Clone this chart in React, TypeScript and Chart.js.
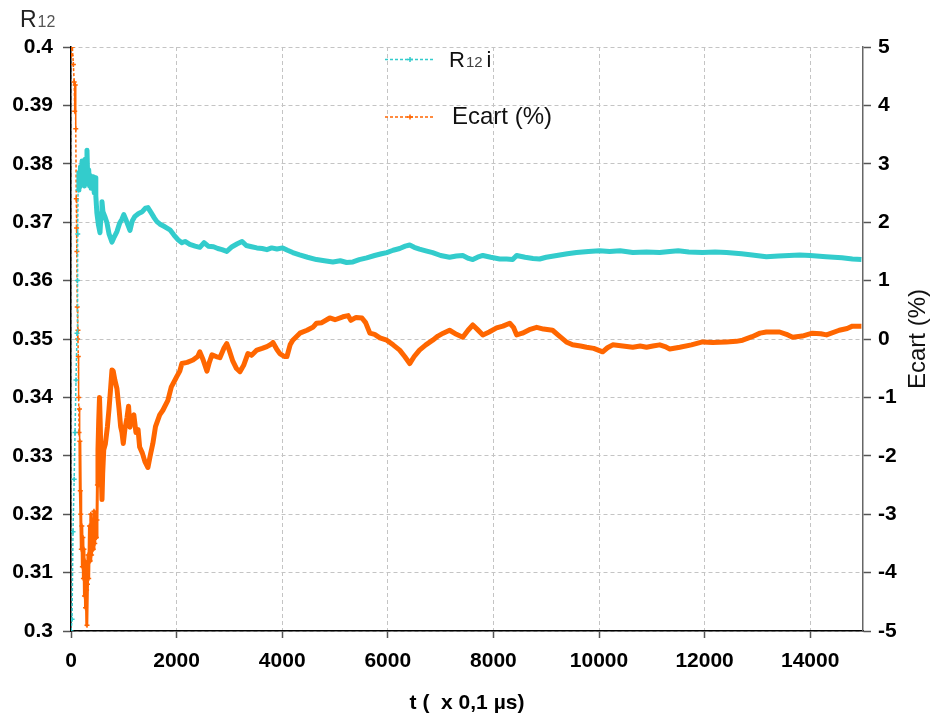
import React, { useEffect, useRef } from "react";
import { Chart, registerables } from "chart.js";

Chart.register(...registerables);

// ---- DATA ----
const tR12: number[] = [0, 20, 38, 60, 76, 95, 114, 122, 128, 134, 150, 165, 180, 195, 210, 225, 240, 255, 270, 285, 303, 318, 335, 350, 365, 380, 395, 410, 425, 440, 455, 470, 490, 520, 549, 570, 587, 605, 640, 681, 720, 776, 820, 870, 920, 965, 1000, 1050, 1117, 1160, 1211, 1280, 1350, 1410, 1457, 1520, 1580, 1627, 1680, 1760, 1874, 1950, 2025, 2100, 2160, 2250, 2350, 2440, 2520, 2600, 2700, 2780, 2860, 2950, 3050, 3150, 3240, 3320, 3420, 3520, 3620, 3710, 3800, 3900, 4010, 4100, 4200, 4330, 4480, 4650, 4800, 4960, 5100, 5220, 5340, 5460, 5600, 5750, 5880, 5980, 6100, 6225, 6330, 6415, 6500, 6600, 6720, 6850, 7000, 7170, 7300, 7420, 7530, 7610, 7700, 7800, 7950, 8120, 8250, 8365, 8440, 8600, 8750, 8875, 9000, 9200, 9400, 9575, 9800, 10010, 10200, 10400, 10640, 10900, 11150, 11340, 11500, 11700, 11960, 12200, 12415, 12700, 12900, 13170, 13400, 13600, 13800, 14000, 14300, 14600, 14800, 14970];
const r12: number[] = [0.300, 0.302, 0.317, 0.326, 0.334, 0.343, 0.351, 0.360, 0.368, 0.3755, 0.3785, 0.376, 0.3795, 0.3765, 0.3805, 0.377, 0.3785, 0.3762, 0.3808, 0.3775, 0.3823, 0.3768, 0.379, 0.3762, 0.378, 0.3758, 0.3775, 0.376, 0.3778, 0.375, 0.3776, 0.3745, 0.3716, 0.3695, 0.3682, 0.3715, 0.3735, 0.3718, 0.371, 0.3699, 0.368, 0.3666, 0.3675, 0.3684, 0.3698, 0.3705, 0.3713, 0.3702, 0.3686, 0.3702, 0.371, 0.3715, 0.3718, 0.3724, 0.3725, 0.3716, 0.3707, 0.3701, 0.3697, 0.3693, 0.3687, 0.3678, 0.367, 0.3665, 0.3667, 0.3662, 0.3659, 0.3657, 0.3665, 0.3659, 0.3658, 0.3655, 0.3653, 0.365, 0.3658, 0.3663, 0.3667, 0.366, 0.3658, 0.3656, 0.3655, 0.3653, 0.3656, 0.3654, 0.3656, 0.3652, 0.3648, 0.3644, 0.364, 0.3636, 0.3634, 0.3632, 0.3634, 0.3631, 0.3632, 0.3636, 0.3639, 0.3643, 0.3646, 0.3648, 0.3652, 0.3655, 0.3659, 0.3661, 0.3657, 0.3654, 0.3651, 0.3648, 0.3643, 0.364, 0.3642, 0.3643, 0.3638, 0.3636, 0.364, 0.3643, 0.364, 0.3637, 0.3637, 0.3636, 0.3643, 0.364, 0.3638, 0.3637, 0.364, 0.3643, 0.3646, 0.3648, 0.365, 0.3651, 0.365, 0.3651, 0.3648, 0.3649, 0.3648, 0.365, 0.3651, 0.3649, 0.3648, 0.3649, 0.3648, 0.3646, 0.3644, 0.3641, 0.3642, 0.3643, 0.3644, 0.3643, 0.3641, 0.3639, 0.3637, 0.3636];

const tEcart: number[] = [0, 25, 45, 60, 70, 80, 90, 100, 106, 112, 118, 125, 132, 138, 145, 152, 160, 168, 176, 185, 195, 205, 215, 225, 235, 245, 255, 265, 275, 285, 295, 303, 312, 322, 335, 350, 362, 375, 390, 405, 420, 435, 450, 465, 480, 492, 500, 511, 525, 540, 555, 570, 587, 600, 620, 650, 690, 720, 750, 776, 800, 830, 870, 910, 940, 965, 990, 1020, 1060, 1090, 1117, 1150, 1190, 1230, 1270, 1300, 1350, 1400, 1457, 1500, 1550, 1600, 1680, 1740, 1835, 1900, 1960, 2000, 2060, 2100, 2200, 2310, 2400, 2440, 2500, 2575, 2620, 2670, 2750, 2820, 2900, 2950, 3000, 3065, 3130, 3200, 3270, 3350, 3420, 3520, 3620, 3710, 3790, 3825, 3900, 3955, 4040, 4090, 4150, 4200, 4335, 4470, 4580, 4650, 4750, 4900, 5000, 5150, 5250, 5300, 5400, 5510, 5580, 5660, 5750, 5850, 5980, 6100, 6225, 6320, 6415, 6500, 6600, 6720, 6850, 6950, 7050, 7170, 7300, 7420, 7520, 7610, 7700, 7800, 7920, 8060, 8180, 8310, 8380, 8440, 8550, 8680, 8820, 8950, 9120, 9250, 9380, 9500, 9650, 9765, 9900, 10070, 10160, 10260, 10450, 10640, 10780, 10900, 11020, 11150, 11250, 11340, 11530, 11750, 11960, 12150, 12415, 12600, 12720, 12900, 13050, 13170, 13420, 13550, 13665, 13850, 14040, 14200, 14310, 14550, 14700, 14800, 14970];
const ecart: number[] = [4.85, 5.0, 4.7, 4.4, 3.9, 4.35, 3.6, 2.4, 1.9, 1.5, 0.55, 0.0, 0.15, -0.3, -1.0, -1.6, -1.2, -1.75, -2.6, -3.0, -3.6, -3.2, -3.9, -3.4, -4.1, -3.6, -4.4, -3.8, -4.6, -4.0, -4.3, -4.9, -4.2, -3.7, -4.1, -3.2, -3.8, -3.0, -3.7, -3.1, -3.6, -2.95, -3.5, -3.0, -3.4, -3.1, -2.5, -1.9, -1.4, -1.0, -1.5, -2.2, -2.75, -2.3, -1.9, -1.8, -1.5, -1.2, -0.85, -0.53, -0.55, -0.7, -0.85, -1.2, -1.5, -1.6, -1.79, -1.55, -1.35, -1.15, -1.51, -1.34, -1.3, -1.6, -1.55, -1.85, -1.95, -2.1, -2.2, -2.0, -1.79, -1.5, -1.3, -1.22, -1.05, -0.82, -0.72, -0.65, -0.55, -0.42, -0.4, -0.36, -0.3, -0.22, -0.35, -0.55, -0.4, -0.27, -0.3, -0.32, -0.15, -0.08, -0.2, -0.38, -0.5, -0.56, -0.45, -0.25, -0.28, -0.19, -0.16, -0.13, -0.09, -0.06, -0.18, -0.25, -0.3, -0.3, -0.1, -0.02, 0.1, 0.15, 0.2, 0.27, 0.28, 0.36, 0.33, 0.38, 0.4, 0.32, 0.37, 0.36, 0.28, 0.1, 0.08, 0.02, -0.02, -0.1, -0.19, -0.3, -0.42, -0.3, -0.19, -0.1, -0.02, 0.05, 0.1, 0.15, 0.08, 0.03, 0.15, 0.24, 0.16, 0.07, 0.12, 0.19, 0.22, 0.27, 0.2, 0.07, 0.1, 0.16, 0.2, 0.17, 0.15, 0.05, -0.05, -0.1, -0.12, -0.14, -0.16, -0.22, -0.15, -0.1, -0.12, -0.14, -0.12, -0.14, -0.12, -0.1, -0.13, -0.17, -0.14, -0.1, -0.05, -0.06, -0.05, -0.04, -0.02, 0.04, 0.1, 0.12, 0.12, 0.08, 0.03, 0.05, 0.1, 0.09, 0.07, 0.15, 0.18, 0.22, 0.22];

const xTicks: number[] = [0, 2000, 4000, 6000, 8000, 10000, 12000, 14000];
const leftTicks: number[] = [0.3, 0.31, 0.32, 0.33, 0.34, 0.35, 0.36, 0.37, 0.38, 0.39, 0.4];
const rightTicks: number[] = [-5, -4, -3, -2, -1, 0, 1, 2, 3, 4, 5];

const TEAL = "#33CCCC";
const ORANGE = "#FF6600";
const FONT = '"Liberation Sans", Arial, sans-serif';

const W = 933;
const H = 716;
const AREA = { left: 71, right: 863, top: 47, bottom: 631 };

const textPlugin = {
  id: "customTexts",
  afterDraw(chart: any) {
    const ctx = chart.ctx as CanvasRenderingContext2D;
    const ca = chart.chartArea;
    ctx.save();
    // Left axis title R12
    ctx.textAlign = "left";
    ctx.textBaseline = "alphabetic";
    ctx.fillStyle = "#222";
    ctx.font = `23px ${FONT}`;
    ctx.fillText("R", 20, 27);
    const rw = ctx.measureText("R").width;
    ctx.fillStyle = "#555";
    ctx.font = `16px ${FONT}`;
    ctx.fillText("12", 20 + rw + 1, 27);

    // X axis title
    ctx.fillStyle = "#000";
    ctx.font = `bold 21px ${FONT}`;
    ctx.textAlign = "center";
    ctx.textBaseline = "middle";
    ctx.fillText("t (  x 0,1 µs)", (ca.left + ca.right) / 2, 703);

    // Right axis title
    ctx.save();
    ctx.translate(918, (ca.top + ca.bottom) / 2);
    ctx.rotate(-Math.PI / 2);
    ctx.font = `24px ${FONT}`;
    ctx.fillStyle = "#111";
    ctx.textAlign = "center";
    ctx.textBaseline = "middle";
    ctx.fillText("Ecart (%)", 0, 0);
    ctx.restore();

    // Legend
    const drawLegendLine = (y: number, color: string) => {
      ctx.save();
      ctx.strokeStyle = color;
      ctx.lineWidth = 1.5;
      ctx.setLineDash([3, 2]);
      ctx.beginPath();
      ctx.moveTo(385, y);
      ctx.lineTo(433, y);
      ctx.stroke();
      ctx.setLineDash([]);
      ctx.lineWidth = 1.5;
      ctx.beginPath();
      ctx.moveTo(407, y);
      ctx.lineTo(413, y);
      ctx.moveTo(410, y - 2.5);
      ctx.lineTo(410, y + 2.5);
      ctx.stroke();
      ctx.restore();
    };
    drawLegendLine(59.5, TEAL);
    drawLegendLine(117, ORANGE);

    ctx.textAlign = "left";
    ctx.textBaseline = "alphabetic";
    ctx.fillStyle = "#111";
    ctx.font = `22px ${FONT}`;
    ctx.fillText("R", 449, 67);
    const lw = ctx.measureText("R").width;
    ctx.fillStyle = "#444";
    ctx.font = `15px ${FONT}`;
    ctx.fillText("12", 449 + lw + 1, 67);
    const lw2 = ctx.measureText("12").width;
    ctx.fillStyle = "#111";
    ctx.font = `22px ${FONT}`;
    ctx.fillText("i", 449 + lw + 1 + lw2 + 4, 67);

    ctx.font = `24px ${FONT}`;
    ctx.fillText("Ecart (%)", 452, 124);
    ctx.restore();
  },
};

const EARLY_T = 500;

export default function App() {
  const canvasRef = useRef<HTMLCanvasElement | null>(null);

  useEffect(() => {
    const canvas = canvasRef.current;
    if (!canvas) return;

    const tealData = tR12.map((t, i) => ({ x: t, y: r12[i] }));
    const orangeData = tEcart.map((t, i) => ({ x: t, y: ecart[i] }));

    const segDash = (limit: number) => (c: any) => (c.p1.parsed.x <= limit ? [3, 2] : undefined);

    const chart = new Chart(canvas, {
      type: "line",
      data: {
        datasets: [
          {
            label: "R12 i",
            data: tealData,
            yAxisID: "y",
            borderColor: TEAL,
            backgroundColor: TEAL,
            borderWidth: 5,
            borderJoinStyle: "round",
            pointStyle: "cross",
            pointRadius: (c: any) => (c.raw && c.raw.x <= 140 ? 2.5 : 0),
            pointBorderWidth: 1.5,
            pointBorderColor: TEAL,
            tension: 0,
            segment: {
              borderWidth: (c: any) => (c.p1.parsed.x <= 134 ? 1.5 : 5),
              borderDash: segDash(134),
            },
          },
          {
            label: "Ecart (%)",
            data: orangeData,
            yAxisID: "y1",
            borderColor: ORANGE,
            backgroundColor: ORANGE,
            borderWidth: 5,
            borderJoinStyle: "round",
            pointStyle: "cross",
            pointRadius: (c: any) => (c.raw && c.raw.x <= EARLY_T ? 2.5 : 0),
            pointBorderWidth: 1.5,
            pointBorderColor: ORANGE,
            tension: 0,
            segment: {
              borderWidth: (c: any) => {
                const x = c.p1.parsed.x;
                if (x <= 170) return 1.5;
                if (x <= EARLY_T) return 3;
                return 5;
              },
              borderDash: segDash(170),
            },
          },
        ],
      },
      options: {
        responsive: false,
        animation: false,
        devicePixelRatio: 1,
        layout: { padding: { top: AREA.top, left: 0, right: 0, bottom: 0 } },
        plugins: {
          legend: { display: false },
          tooltip: { enabled: false },
          title: { display: false },
        },
        scales: {
          x: {
            type: "linear",
            min: 0,
            max: 15000,
            afterBuildTicks: (s: any) => {
              s.ticks = xTicks.map((v) => ({ value: v }));
            },
            afterFit: (s: any) => {
              s.height = H - AREA.bottom;
            },
            ticks: {
              color: "#000",
              font: { family: FONT, size: 21, weight: "bold" },
              padding: 11,
              maxRotation: 0,
              autoSkip: false,
              callback: (v: any) => String(v),
            },
            grid: {
              color: "#c4c4c4",
              lineWidth: 1,
              drawTicks: true,
              tickLength: 7,
              tickColor: "#555",
              tickWidth: 1.5,
            },
            border: { display: true, color: "#000", width: 1.5, dash: [4, 3] },
          },
          y: {
            type: "linear",
            position: "left",
            min: 0.3,
            max: 0.4,
            afterBuildTicks: (s: any) => {
              s.ticks = leftTicks.map((v) => ({ value: v }));
            },
            afterFit: (s: any) => {
              s.width = AREA.left;
            },
            ticks: {
              color: "#000",
              font: { family: FONT, size: 21, weight: "bold" },
              padding: 10,
              autoSkip: false,
              callback: (v: any) => String(Number(Number(v).toFixed(2))),
            },
            grid: {
              color: "#c4c4c4",
              lineWidth: 1,
              drawTicks: true,
              tickLength: 8,
              tickColor: "#555",
              tickWidth: 1.5,
            },
            border: { display: true, color: "#000", width: 1.5, dash: [4, 3] },
          },
          y1: {
            type: "linear",
            position: "right",
            min: -5,
            max: 5,
            afterBuildTicks: (s: any) => {
              s.ticks = rightTicks.map((v) => ({ value: v }));
            },
            afterFit: (s: any) => {
              s.width = W - AREA.right;
            },
            ticks: {
              color: "#000",
              font: { family: FONT, size: 21, weight: "bold" },
              padding: 7,
              autoSkip: false,
              callback: (v: any) => String(v),
            },
            grid: {
              drawOnChartArea: false,
              drawTicks: true,
              tickLength: 8,
              tickColor: "#555",
              tickWidth: 1.5,
            },
            border: { display: true, color: "#666", width: 1.5 },
          },
        },
      } as any,
      plugins: [textPlugin],
    });

    return () => {
      chart.destroy();
    };
  }, []);

  return (
    <div style={{ position: "absolute", left: 0, top: 0, width: W, height: H, background: "#fff" }}>
      <canvas ref={canvasRef} width={W} height={H} style={{ display: "block", width: W, height: H }} />
    </div>
  );
}
